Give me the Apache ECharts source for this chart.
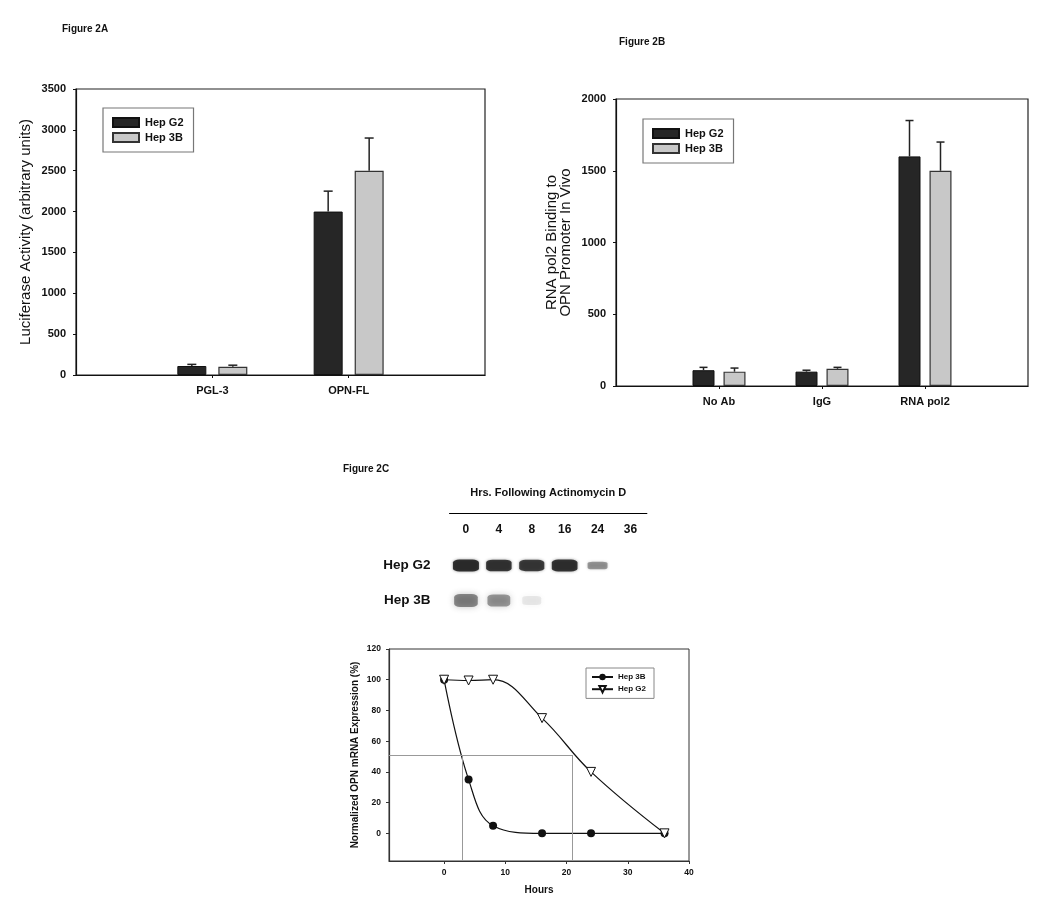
<!DOCTYPE html>
<html><head><meta charset="utf-8">
<script src="https://cdn.jsdelivr.net/npm/echarts@6/dist/echarts.min.js"></script>
<style>html,body{margin:0;padding:0;background:#fff}#c{width:1050px;height:911px}</style>
</head><body><div id="c"></div>
<script>
// ---------- Figure 2A ----------
const catsA = ['PGL-3', 'OPN-FL'];
const g2A = [110, 2000];
const g2AUpper = [130, 2250];
const b3A = [100, 2500];
const b3AUpper = [120, 2900];
// ---------- Figure 2B ----------
const catsB = ['No Ab', 'IgG', 'RNA pol2'];
const g2B = [110, 100, 1600];
const g2BUpper = [130, 110, 1850];
const b3B = [100, 120, 1500];
const b3BUpper = [125, 130, 1700];
// ---------- Figure 2C gel ----------
const lanes = ['0', '4', '8', '16', '24', '36'];
const gelRows = ['Hep G2', 'Hep 3B'];
const g2Band = [1.0, 0.95, 0.92, 0.97, 0.45, 0];
const b3Band = [0.7, 0.6, 0.12, 0, 0, 0];
// ---------- Figure 2C decay ----------
const hours = [0, 4, 8, 16, 24, 36];
const hep3B = [100, 35, 5, 0, 0, 0];
const hepG2 = [100, 99.5, 100, 75, 40, 0];
const xTicksC = [0, 10, 20, 30, 40];
const yTicksC = [0, 20, 40, 60, 80, 100, 120];
const halfLevel = 51;
const halfLives = [3, 21];

const FONT = 'Liberation Sans, Arial, sans-serif';
const INK = '#111';
const darkBar = {color: '#262626', borderColor: '#111', borderWidth: 1};
const lightBar = {color: '#c8c8c8', borderColor: '#333', borderWidth: 1.2};
const plain = v => String(v);

function pad(arr) { return ['-', ...arr, '-']; }
function padCats(arr) { return ['', ...arr, '']; }

function errRender(offset, cap) {
  return function (params, api) {
    const i = api.value(0);
    const p0 = api.coord([i, api.value(1)]);
    const p1 = api.coord([i, api.value(2)]);
    const x = p0[0] + offset;
    const st = {stroke: '#222', lineWidth: 1.5};
    return {type: 'group', children: [
      {type: 'line', shape: {x1: x, y1: p0[1], x2: x, y2: p1[1]}, style: st},
      {type: 'line', shape: {x1: x - cap / 2, y1: p1[1], x2: x + cap / 2, y2: p1[1]}, style: st}
    ]};
  };
}

const barWA = 29, gapA = 12, barWB = 22, gapB = 9;

const catAxis = (cats, idx) => ({
  type: 'category', gridIndex: idx, data: padCats(cats), boundaryGap: false,
  axisLine: {lineStyle: {color: INK, width: 1.2}},
  axisTick: {length: 3, lineStyle: {color: INK}, interval: (i, v) => v !== ''},
  axisLabel: {margin: 10, fontFamily: FONT, fontWeight: 'bold', fontSize: 11, color: INK, interval: 0},
  splitLine: {show: false}
});

const valAxis = (idx, max, name, gap, lh) => ({
  type: 'value', gridIndex: idx, min: 0, max: max, interval: 500,
  axisLine: {show: true, lineStyle: {color: INK, width: 1.2}},
  axisTick: {show: true, length: 3, lineStyle: {color: INK}},
  axisLabel: {margin: 10, fontFamily: FONT, fontWeight: 'bold', fontSize: 11, color: INK, formatter: plain},
  splitLine: {show: false},
  name: name, nameLocation: 'middle', nameGap: gap,
  nameTextStyle: {fontFamily: FONT, fontSize: 15, color: INK, lineHeight: lh}
});

const barLegend = (left, top) => ({
  data: ['Hep G2', 'Hep 3B'], orient: 'vertical', left: left, top: top, padding: [9, 10, 9, 9],
  icon: 'rect', itemWidth: 26, itemHeight: 9, itemGap: 4, backgroundColor: '#fff', borderColor: '#777', borderWidth: 1.2,
  textStyle: {fontFamily: FONT, fontSize: 11, fontWeight: 'bold', color: INK, padding: [0, 0, 0, 1]}, selectedMode: false
});

const option = {
  backgroundColor: '#fff',
  animation: false,
  title: [
    {text: 'Figure 2A', left: 57, top: 19, textStyle: {fontFamily: FONT, fontSize: 10, fontWeight: 'bold', color: INK}},
    {text: 'Figure 2B', left: 614, top: 32, textStyle: {fontFamily: FONT, fontSize: 10, fontWeight: 'bold', color: INK}},
    {text: 'Figure 2C', left: 338, top: 459, textStyle: {fontFamily: FONT, fontSize: 10, fontWeight: 'bold', color: INK}}
  ],
  legend: [
    barLegend(103, 108),
    barLegend(643, 119),
    {data: ['Hep 3B (2C)', 'Hep G2 (2C)'], orient: 'vertical', left: 586, top: 668, padding: [5, 8, 5, 5],
     itemWidth: 21, itemHeight: 8, itemGap: 4, backgroundColor: '#fff', borderColor: '#888', borderWidth: 1,
     formatter: n => n.replace(' (2C)', ''),
     textStyle: {fontFamily: FONT, fontSize: 8, fontWeight: 'bold', color: INK}, selectedMode: false}
  ],
  grid: [
    {left: 76, top: 89, width: 409, height: 286, show: true, borderColor: '#222', borderWidth: 1.2, backgroundColor: 'transparent'},
    {left: 616, top: 99, width: 412, height: 287, show: true, borderColor: '#222', borderWidth: 1.2, backgroundColor: 'transparent'},
    {left: 389, top: 649, width: 300, height: 212, show: true, borderColor: '#333', borderWidth: 1, backgroundColor: 'transparent'},
    {left: 449.5, top: 513, width: 197.4, height: 105}
  ],
  xAxis: [
    catAxis(catsA, 0),
    catAxis(catsB, 1),
    {type: 'value', gridIndex: 2, min: -9, max: 40,
     axisLine: {onZero: false, lineStyle: {color: '#333', width: 1.2}},
     axisTick: {show: true, length: 3, customValues: xTicksC, lineStyle: {color: '#333'}},
     axisLabel: {customValues: xTicksC, margin: 7, fontFamily: FONT, fontWeight: 'bold', fontSize: 8.5, color: INK, formatter: plain},
     splitLine: {show: false},
     name: 'Hours', nameLocation: 'middle', nameGap: 24,
     nameTextStyle: {fontFamily: FONT, fontSize: 10, fontWeight: 'bold', color: INK}},
    {type: 'category', gridIndex: 3, data: lanes, position: 'top',
     axisLine: {show: true, lineStyle: {color: '#000', width: 1}},
     axisTick: {show: false},
     axisLabel: {inside: true, margin: 11, fontFamily: FONT, fontWeight: 'bold', fontSize: 12, color: INK},
     name: 'Hrs. Following Actinomycin D', nameLocation: 'middle', nameGap: 15,
     nameTextStyle: {fontFamily: FONT, fontSize: 11, fontWeight: 'bold', color: INK}}
  ],
  yAxis: [
    valAxis(0, 3500, 'Luciferase Activity (arbitrary units)', 42, 16),
    valAxis(1, 2000, 'RNA pol2 Binding to\nOPN Promoter In Vivo', 43, 14),
    {type: 'value', gridIndex: 2, min: -18, max: 120,
     axisLine: {show: true, onZero: false, lineStyle: {color: '#333', width: 1.2}},
     axisTick: {show: true, length: 3, customValues: yTicksC, lineStyle: {color: '#333'}},
     axisLabel: {customValues: yTicksC, margin: 8, fontFamily: FONT, fontWeight: 'bold', fontSize: 8.5, color: INK, formatter: plain},
     splitLine: {show: false},
     name: 'Normalized OPN mRNA Expression (%)', nameLocation: 'middle', nameGap: 29,
     nameTextStyle: {fontFamily: FONT, fontSize: 10, fontWeight: 'bold', color: INK}},
    {type: 'category', gridIndex: 3, data: ['', ...gelRows], inverse: true,
     axisLine: {show: false}, axisTick: {show: false}, splitLine: {show: false},
     axisLabel: {margin: 19, fontFamily: FONT, fontWeight: 'bold', fontSize: 13.5, color: INK}}
  ],
  series: [
    // 2A bars
    {name: 'Hep G2', type: 'bar', xAxisIndex: 0, yAxisIndex: 0, data: pad(g2A), barWidth: barWA, barGap: (gapA / barWA * 100) + '%', itemStyle: darkBar},
    {name: 'Hep 3B', type: 'bar', xAxisIndex: 0, yAxisIndex: 0, data: pad(b3A), barWidth: barWA, itemStyle: lightBar},
    {type: 'custom', xAxisIndex: 0, yAxisIndex: 0, renderItem: errRender(-(barWA + gapA) / 2, 9), z: 5,
     data: catsA.map((c, k) => [k + 1, g2A[k], g2AUpper[k]])},
    {type: 'custom', xAxisIndex: 0, yAxisIndex: 0, renderItem: errRender((barWA + gapA) / 2, 9), z: 5,
     data: catsA.map((c, k) => [k + 1, b3A[k], b3AUpper[k]])},
    // 2B bars
    {name: 'Hep G2', type: 'bar', xAxisIndex: 1, yAxisIndex: 1, data: pad(g2B), barWidth: barWB, barGap: (gapB / barWB * 100) + '%', itemStyle: darkBar},
    {name: 'Hep 3B', type: 'bar', xAxisIndex: 1, yAxisIndex: 1, data: pad(b3B), barWidth: barWB, itemStyle: lightBar},
    {type: 'custom', xAxisIndex: 1, yAxisIndex: 1, renderItem: errRender(-(barWB + gapB) / 2, 8), z: 5,
     data: catsB.map((c, k) => [k + 1, g2B[k], g2BUpper[k]])},
    {type: 'custom', xAxisIndex: 1, yAxisIndex: 1, renderItem: errRender((barWB + gapB) / 2, 8), z: 5,
     data: catsB.map((c, k) => [k + 1, b3B[k], b3BUpper[k]])},
    // 2C decay curves
    {name: 'Hep 3B (2C)', type: 'line', xAxisIndex: 2, yAxisIndex: 2, smooth: 0.4,
     data: hours.map((h, i) => [h, hep3B[i]]),
     symbol: 'circle', symbolSize: 8, itemStyle: {color: INK},
     lineStyle: {color: INK, width: 1.2}, z: 4,
     markLine: {silent: true, symbol: 'none', label: {show: false},
       lineStyle: {color: '#999', width: 1, type: 'solid'},
       data: [
         [{coord: [-9, halfLevel]}, {coord: [halfLives[1], halfLevel]}],
         [{coord: [halfLives[0], halfLevel]}, {coord: [halfLives[0], -18]}],
         [{coord: [halfLives[1], halfLevel]}, {coord: [halfLives[1], -18]}]
       ]}},
    {name: 'Hep G2 (2C)', type: 'line', xAxisIndex: 2, yAxisIndex: 2, smooth: 0.4,
     data: hours.map((h, i) => [h, hepG2[i]]),
     symbol: 'triangle', symbolRotate: 180, symbolSize: 9,
     itemStyle: {color: '#fff', borderColor: INK, borderWidth: 1},
     lineStyle: {color: INK, width: 1.2}, z: 5},
    // 2C gel bands
    {type: 'scatter', xAxisIndex: 3, yAxisIndex: 3, symbol: 'roundRect',
     data: g2Band.map((v, i) => [i, 1, v]).filter(d => d[2] > 0),
     symbolSize: v => [15 + 11 * v[2], 4 + 8 * v[2]],
     itemStyle: {color: p => 'rgba(12,12,12,' + p.value[2] + ')', shadowBlur: 3, shadowColor: 'rgba(0,0,0,0.5)'}},
    {type: 'scatter', xAxisIndex: 3, yAxisIndex: 3, symbol: 'roundRect',
     data: b3Band.map((v, i) => [i, 2, v]).filter(d => d[2] > 0),
     symbolSize: v => [18 + 8 * v[2], 8 + 7 * v[2]],
     itemStyle: {color: p => 'rgba(40,40,40,' + (p.value[2] * 0.9) + ')', shadowBlur: 6, shadowColor: 'rgba(60,60,60,0.6)'}}
  ]
};

const chart = echarts.init(document.getElementById('c'), null, {renderer: 'canvas'});
chart.setOption(option);
</script>
</body></html>
